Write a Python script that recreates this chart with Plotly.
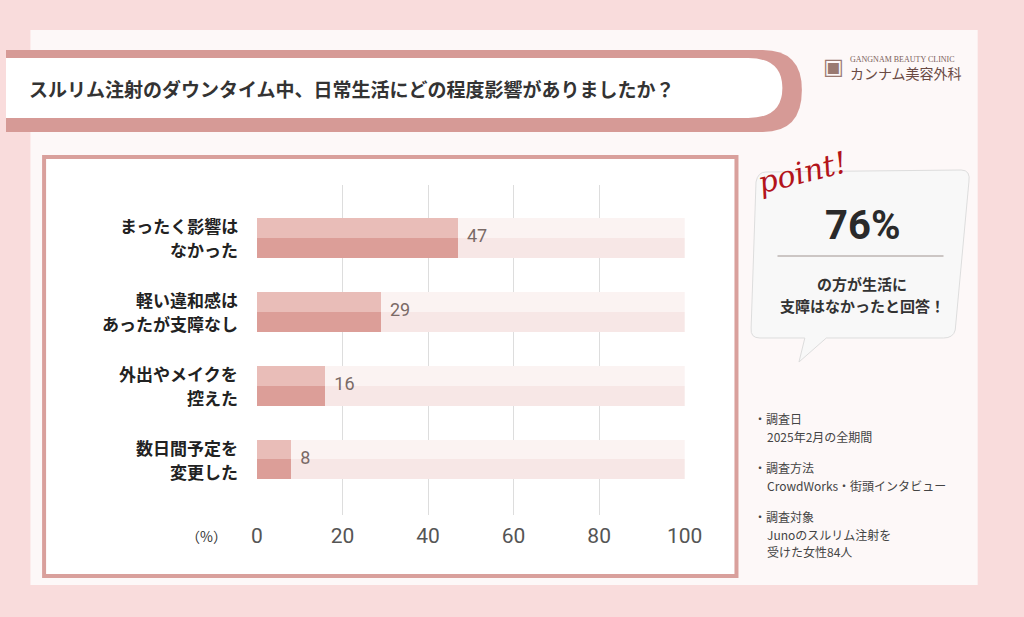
import plotly.graph_objects as go

categories = [["まったく影響は", "なかった"], ["軽い違和感は", "あったが支障なし"], ["外出やメイクを", "控えた"], ["数日間予定を", "変更した"]]
values = [47, 29, 16, 8]
track_max = 100
x_ticks = [0, 20, 40, 60, 80, 100]

W, H = 1024, 617
def px(x): return x / W
def py(y): return 1 - y / H

n = len(categories)
ypos = [n - 1 - i for i in range(n)]
half = 0.27

fig = go.Figure()
fig.add_trace(go.Bar(y=[p + half/2 for p in ypos], x=[track_max]*n, orientation="h", width=half,
                     marker=dict(color="#fbf3f2", line_width=0), hoverinfo="skip", showlegend=False))
fig.add_trace(go.Bar(y=[p - half/2 for p in ypos], x=[track_max]*n, orientation="h", width=half,
                     marker=dict(color="#f7e7e6", line_width=0), hoverinfo="skip", showlegend=False))
fig.add_trace(go.Bar(y=[p + half/2 for p in ypos], x=values, orientation="h", width=half,
                     marker=dict(color="#e9bdb8", line_width=0), showlegend=False))
fig.add_trace(go.Bar(y=[p - half/2 for p in ypos], x=values, orientation="h", width=half,
                     marker=dict(color="#dc9e98", line_width=0), showlegend=False))
fig.add_trace(go.Scatter(y=ypos, x=values, mode="text", text=[str(v) for v in values],
                         textposition="middle right", texttemplate="  %{text}",
                         textfont=dict(size=18, color="#7a6a66", family="Roboto"), showlegend=False, hoverinfo="skip"))

shapes = []
shapes.append(dict(type="rect", xref="paper", yref="paper", x0=px(25), x1=px(995), y0=py(585), y1=py(30),
                   fillcolor="#fdf8f8", line_width=0, layer="below"))
shapes.append(dict(type="rect", xref="paper", yref="paper", x0=px(39), x1=px(748), y0=py(576), y1=py(157),
                   fillcolor="white", line=dict(color="#d9a09c", width=4), layer="below"))
shapes.append(dict(type="path", xref="paper", yref="paper", layer="below",
                   path=f"M 0,{py(50)} L {px(775)},{py(50)} Q {px(815)},{py(50)} {px(815)},{py(90)} Q {px(815)},{py(132)} {px(775)},{py(132)} L 0,{py(132)} Z",
                   fillcolor="#d69a96", line_width=0))
shapes.append(dict(type="path", xref="paper", yref="paper", layer="below",
                   path=f"M 0,{py(58)} L {px(760)},{py(58)} Q {px(795)},{py(58)} {px(795)},{py(88)} Q {px(795)},{py(118)} {px(760)},{py(118)} L 0,{py(118)} Z",
                   fillcolor="white", line_width=0))
shapes.append(dict(type="path", xref="paper", yref="paper", layer="below",
                   path=f"M {px(778)},{py(172)} L {px(978)},{py(170)} Q {px(988)},{py(170)} {px(986)},{py(182)} L {px(972)},{py(330)} Q {px(970)},{py(338)} {px(960)},{py(338)} L {px(840)},{py(338)} L {px(812)},{py(362)} L {px(818)},{py(338)} L {px(772)},{py(338)} Q {px(762)},{py(338)} {px(763)},{py(328)} L {px(768)},{py(182)} Q {px(770)},{py(172)} {px(778)},{py(172)} Z",
                   fillcolor="#f8f8f8", line=dict(color="#dddddd", width=1)))
shapes.append(dict(type="line", xref="paper", yref="paper", x0=px(790), x1=px(960), y0=py(256), y1=py(256),
                   line=dict(color="#a09490", width=1)))

ann = []
F = "Noto Sans CJK JP"
def T(x, y, text, size, color, family=F, xa="center", ya="middle", **kw):
    ann.append(dict(x=px(x), y=py(y), xref="paper", yref="paper", xanchor=xa, yanchor=ya, showarrow=False,
                    text=text, font=dict(family=family, size=size, color=color), **kw))

T(22, 88, "<b>スルリム注射のダウンタイム中、日常生活にどの程度影響がありましたか？</b>", 19, "#333333", xa="left")
for i, (l1, l2) in enumerate(categories):
    cy = 238 + 73.7 * i
    T(240, cy - 12, f"<b>{l1}</b>", 17, "#222222", xa="right")
    T(240, cy + 12, f"<b>{l2}</b>", 17, "#222222", xa="right")
T(205, 536, "（%）", 14, "#333333")
T(815, 172, "<i>point!</i>", 30, "#b3141b", family="DejaVu Serif", textangle=-14)
T(877, 226, "<b>76%</b>", 40, "#2a2a2a", family="Roboto")
T(877, 283, "<b>の方が生活に</b>", 15, "#333333")
T(877, 305, "<b>支障はなかったと回答！</b>", 15, "#333333")
notes = [("・調査日", 418), ("2025年2月の全期間", 436), ("・調査方法", 467), ("CrowdWorks・街頭インタビュー", 485),
         ("・調査対象", 516), ("Junoのスルリム注射を", 534), ("受けた女性84人", 551)]
for t, y in notes:
    T(764 if t.startswith("・") else 777, y, t, 12, "#444444", xa="left")
T(862, 60, "GANGNAM BEAUTY CLINIC", 8, "#7a6058", family="Liberation Serif", xa="left")
T(862, 73, "カンナム美容外科", 14, "#6a4a44", xa="left")
T(847, 66, "▣", 22, "#9a7a72", family="DejaVu Sans")

fig.update_layout(
    autosize=True, margin=dict(l=0, r=0, t=0, b=0),
    paper_bgcolor="#f9dcdc", plot_bgcolor="rgba(0,0,0,0)", barmode="overlay", bargap=0,
    shapes=shapes, annotations=ann,
    xaxis=dict(domain=[px(257), px(695)], range=[0, 100], tickvals=x_ticks, showgrid=True, gridcolor="#dddddd",
               zeroline=False, tickfont=dict(family="Roboto", size=21, color="#555555"), ticks="", ticklabelstandoff=6),
    yaxis=dict(domain=[py(514.5), py(184.7)], range=[-0.75, 3.72], showticklabels=False, showgrid=False, zeroline=False),
)
fig.write_html("out.html", default_width="100vw", default_height="100vh",
               config=dict(displayModeBar=False, responsive=True),
               post_script="document.body.style.margin='0';document.body.style.overflow='hidden';Plotly.Plots.resize(document.getElementById('{plot_id}'));")
